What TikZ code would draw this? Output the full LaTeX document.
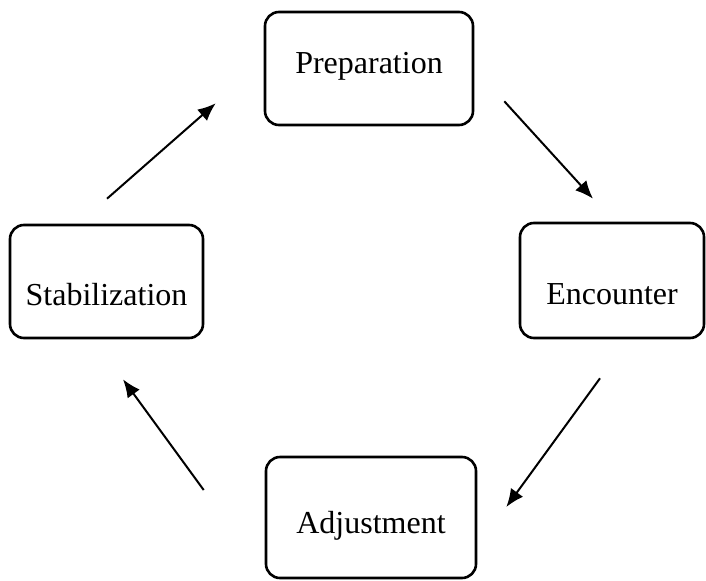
\documentclass[tikz,border=0pt]{standalone}
\usepackage{fontspec}
\setmainfont{Liberation Serif}
\usetikzlibrary{arrows.meta,calc,positioning}

\begin{document}
\begin{tikzpicture}[x=1pt,y=1pt,
    stage/.style={draw, rounded corners=7pt, line width=1.3pt, inner sep=0pt,
      font=\fontsize{16}{19}\selectfont, text depth=0pt},
    flow/.style={line width=1pt, -{Latex[length=9pt,width=7.5pt]}}]
  \useasboundingbox (0,0) rectangle (353,290);
  \node [stage, minimum width=104pt, minimum height=56.5pt, text height=4.5pt] (prep) at (184.5,255.75) {Preparation};
  \node [stage, minimum width=92pt, minimum height=57.5pt, text height=23.5pt] (enc) at (306,149.75) {Encounter};
  \node [stage, minimum width=105pt, minimum height=60.5pt, text height=15.5pt] (adj) at (185.5,31.25) {Adjustment};
  \node [stage, minimum width=96.5pt, minimum height=56.5pt, text height=23.5pt] (stab) at (53.25,149.25) {Stabilization};
  \draw [flow] ($(stab.north)+(0.25,12.5)$) -- ($(prep.south west)+(-24,11.5)$);
  \draw [flow] ($(prep.south east)+(15,12.5)$) -- ($(enc.north)+(-9.5,11.5)$);
  \draw [flow] ($(enc.south)+(-6,-19.5)$) -- ($(adj.east)+(14.5,5.25)$);
  \draw [flow] ($(adj.west)+(-30.5,13.75)$) -- ($(stab.south)+(8.25,-20)$);
\end{tikzpicture}
\end{document}
